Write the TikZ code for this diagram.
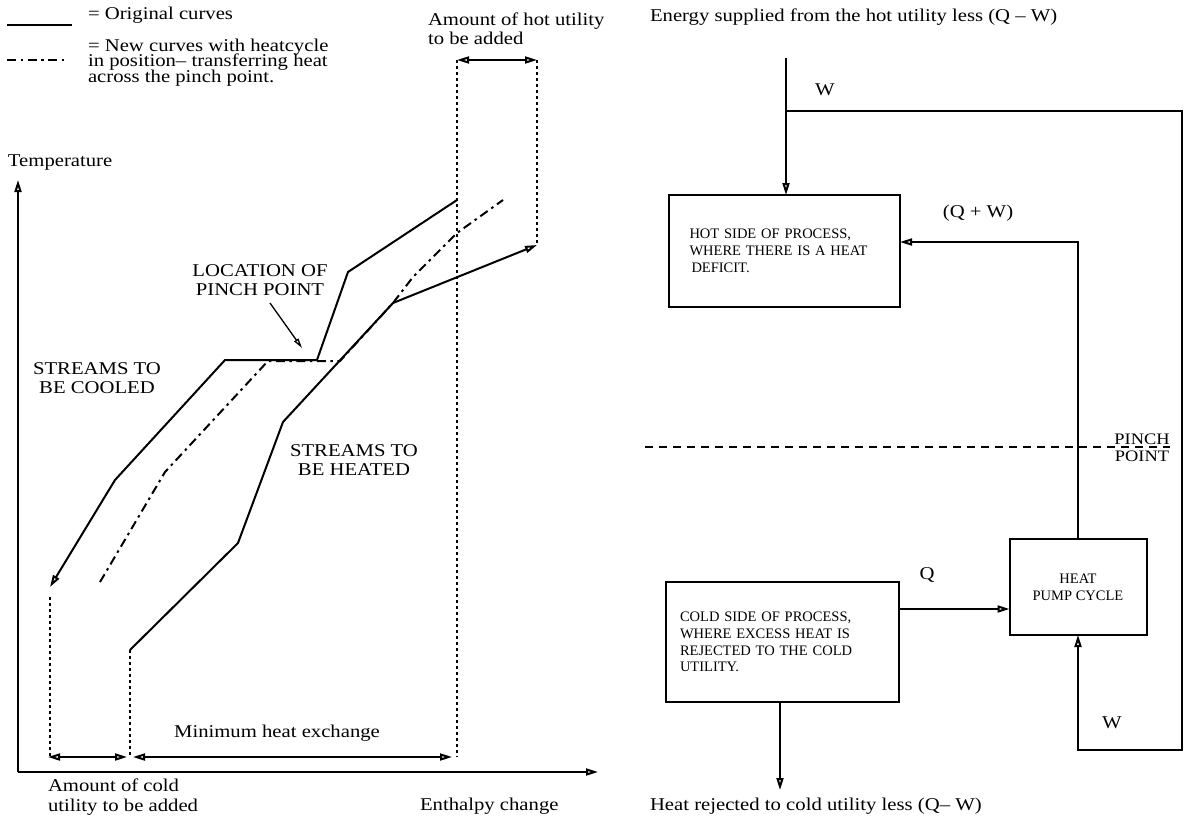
\documentclass[tikz,border=0pt]{standalone}
\usepackage{fontspec}
\setmainfont{Liberation Serif}[FakeStretch=1.15]
\newfontfamily\boxfont{Liberation Serif}
\usetikzlibrary{arrows.meta}
\newcommand\mytightls{\lineskiplimit-30pt\relax}
\begin{document}
\begin{tikzpicture}[x=1pt,y=-1pt,
  >={Triangle[open,length=12pt,width=7pt]},
  every node/.style={inner sep=0pt,outer sep=0pt},
  lbl/.style={font=\fontsize{18}{19.5}\selectfont\mytightls},
  smalltxt/.style={font=\boxfont\fontsize{14.5}{16.8}\selectfont\mytightls},
  solidc/.style={line width=2pt,line join=round},
  newc/.style={line width=2pt,dash pattern=on 9pt off 4.5pt on 2.5pt off 4.5pt},
  dotv/.style={line width=2pt,dash pattern=on 3pt off 3pt},
  pinchl/.style={line width=2pt,dash pattern=on 8pt off 6pt},
  flow/.style={line width=2pt},
  thinarrow/.style={line width=1.3pt,-{Triangle[open,length=10pt,width=5pt]}},
  procbox/.style={draw,line width=2pt,smalltxt,align=left}]

\useasboundingbox (0,0) rectangle (1192,819);

% ---------- legend
\coordinate (l1a) at (7,25); \coordinate (l1b) at (72,25);
\draw[solidc] (l1a) -- (l1b);
\node[lbl,anchor=west] (leg1) at (88,15) {= Original curves};
\coordinate (l2a) at (7,60); \coordinate (l2b) at (68,60);
\draw[newc] (l2a) -- (l2b);
\node[anchor=west,align=left,font=\fontsize{18}{15.8}\selectfont\mytightls] (leg2) at (88,62.5) {= New curves with heatcycle\\in position– transferring heat\\across the pinch point.};

% ---------- axes
\coordinate (O) at (18,772);
\coordinate (yt) at (18,180);
\coordinate (xt) at (598,772);
\draw[flow,->] (O) -- (yt);
\draw[flow,->] (O) -- (xt);
\node[lbl,anchor=west] (ylab) at (8,163) {Temperature};
\node[lbl,anchor=west] (xlab) at (420,806) {Enthalpy change};

% ---------- hot composite curve
\coordinate (h1) at (457,200); \coordinate (h2) at (348,272);
\coordinate (h3) at (317,360); \coordinate (h4) at (225,360);
\coordinate (h5) at (115,480); \coordinate (h6) at (50,587);
\draw[solidc,->] (h1) -- (h2) -- (h3) -- (h4) -- (h5) -- (h6);

% ---------- cold composite curve
\coordinate (c1) at (130,650); \coordinate (c2) at (238,543);
\coordinate (c3) at (283,422); \coordinate (c4) at (393,303);
\coordinate (c5) at (537,245);
\draw[solidc,->] (c1) -- (c2) -- (c3) -- (c4) -- (c5);

% ---------- new curve
\coordinate (n1) at (100,582); \coordinate (n2) at (165,472);
\coordinate (n3) at (268,361); \coordinate (n4) at (340,361);
\coordinate (n5) at (393,303); \coordinate (n6) at (413,277);
\coordinate (n7) at (457,233); \coordinate (n8) at (503,200);
\draw[newc] (n1) -- (n2) -- (n3) -- (n4) -- (n5) -- (n6) -- (n7) -- (n8);

% ---------- dotted guides
\coordinate (hu1) at (457,60); \coordinate (hu2) at (537,60);
\coordinate (bL) at (50,757); \coordinate (bM) at (130,757); \coordinate (bR) at (457,757);
\draw[dotv] (50,597) -- (bL);
\draw[dotv] (c1) -- (bM);
\draw[dotv] (hu1) -- (bR);
\draw[dotv] (hu2) -- (c5);

% ---------- dimension arrows
\draw[flow,<->] (hu1) -- (hu2);
\coordinate (d1) at (48,757); \coordinate (d2) at (127,757);
\coordinate (d3) at (133,757); \coordinate (d4) at (452,757);
\draw[flow,<->] (d1) -- (d2);
\draw[flow,<->] (d3) -- (d4);

% ---------- left labels
\node[lbl,anchor=west,align=left] (hotu) at (428,29) {Amount of hot utility\\to be added};
\node[lbl,align=center] (loc) at (260,280) {LOCATION OF\\PINCH POINT};
\coordinate (la1) at (270,303); \coordinate (la2) at (302,348);
\draw[thinarrow] (la1) -- (la2);
\node[lbl,align=center] (cooled) at (97,378) {STREAMS TO\\BE COOLED};
\node[lbl,align=center] (heated) at (354,460) {STREAMS TO\\BE HEATED};
\node[lbl] (minhx) at (277,733) {Minimum heat exchange};
\node[lbl,anchor=west,align=left] (coldu) at (48,797) {Amount of cold\\utility to be added};

% ---------- right diagram
\node[lbl,anchor=west] (title) at (650,17) {Energy supplied from the hot utility less (Q – W)};
\node[procbox,text width=190pt,inner xsep=20.5pt,minimum height=112pt] (hot) at (784.5,251)
  {HOT SIDE OF PROCESS,\\WHERE THERE IS A HEAT\\\hspace{2pt}DEFICIT.};
\node[procbox,minimum width=137pt,minimum height=96pt,align=center] (hp) at (1078,587)
  {HEAT\\PUMP CYCLE};
\node[procbox,text width=205pt,inner xsep=14pt,minimum height=120pt] (cold) at (782.5,642)
  {COLD SIDE OF PROCESS,\\WHERE EXCESS HEAT IS\\REJECTED TO THE COLD\\UTILITY.};

\coordinate (hin) at (786,58);
\draw[flow,->] (hin) -- (hin |- hot.north);
\coordinate (br) at (786,111);
\coordinate (rt) at (1182,111); \coordinate (rb) at (1182,750); \coordinate (wb) at (1078,750);
\draw[flow,->] (br) -- (rt) -- (rb) -- (wb) -- (hp.south);
\coordinate (qw) at (1078,242);
\draw[flow,->] (hp.north) -- (qw) -- (qw -| hot.east);
\coordinate (qy) at (0,609);
\draw[flow,->] (cold.east |- qy) -- (hp.west |- qy);
\coordinate (cout) at (780,790);
\draw[flow,->] (cold.south -| cout) -- (cout);

\coordinate (p1) at (645,447); \coordinate (p2) at (1170,447);
\draw[pinchl] (p1) -- (p2);
\node[font=\fontsize{16}{14}\selectfont,anchor=base] (pinch) at (1142,444) {PINCH};
\node[font=\fontsize{16}{14}\selectfont,anchor=north] (point) at (1142,451) {POINT};

\node[lbl] (w1) at (825,90) {W};
\node[lbl] (qpw) at (978,213) {(Q + W)};
\node[lbl] (q) at (927,575) {Q};
\node[lbl] (w2) at (1112,723) {W};
\node[lbl,anchor=west] (rej) at (650,806) {Heat rejected to cold utility less (Q– W)};
\end{tikzpicture}
\end{document}
